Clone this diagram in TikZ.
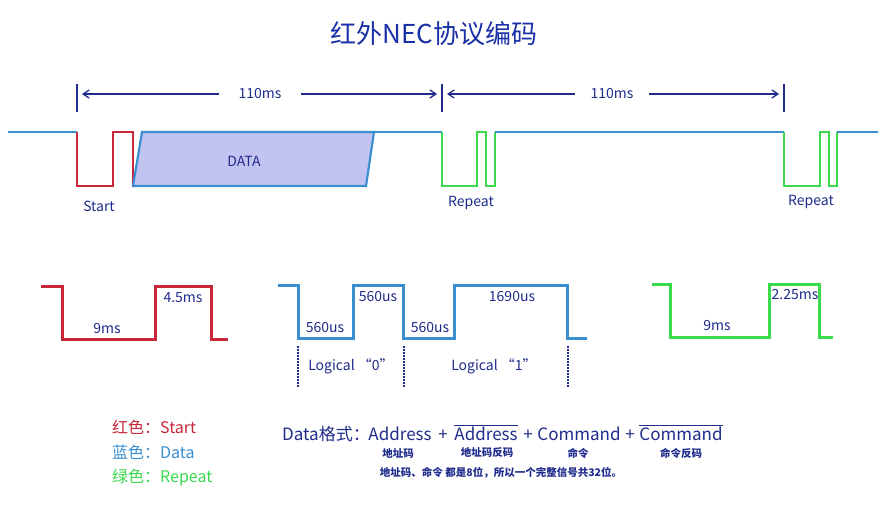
\documentclass[tikz,border=0pt]{standalone}
\usepackage{fontspec}
\setmainfont{Noto Sans CJK SC}
\usetikzlibrary{arrows.meta}
\definecolor{navy}{HTML}{1F2C8C}
\definecolor{titleblue}{HTML}{1A30A8}
\definecolor{wred}{HTML}{C8283A}
\definecolor{wblue}{HTML}{3A8FD0}
\definecolor{wgreen}{HTML}{3CD94C}
\definecolor{datafill}{HTML}{C3C3F2}
\newcommand\ovl[1]{$\overline{\hbox{#1}}$}
\begin{document}
\begin{tikzpicture}[x=1pt,y=-1pt,
  topwave/.style={line width=2.2pt, line join=miter},
  botwave/.style={line width=3pt, line join=miter},
  lbl/.style={text=navy, font=\fontsize{14}{16}\selectfont, inner sep=0pt},
  tick/.style={navy, line width=2pt},
  arr/.style={navy, line width=1.3pt, -{Straight Barb[length=6pt,width=8pt]}},
  guide/.style={navy, line width=1.5pt, dash pattern=on 1.5pt off 1.5pt},
  legend/.style={font=\fontsize{16}{18}\selectfont, anchor=west, inner sep=0pt},
  fmtword/.style={text=navy, font=\fontsize{17}{19}\selectfont, anchor=base, inner sep=0pt},
  small/.style={text=navy, font=\fontsize{10.5}{12}\selectfont\bfseries, inner sep=0pt},
]
\useasboundingbox (0,0) rectangle (888,520);
\fill[white] (0,0) rectangle (888,520);

% title
\node[text=titleblue, font=\fontsize{26}{30}\selectfont] (title) at (434,34) {红外NEC协议编码};

% time markers
\coordinate (k1t) at (77,84);  \coordinate (k1b) at (77,112);
\coordinate (k2t) at (442,84); \coordinate (k2b) at (442,112);
\coordinate (k3t) at (784,84); \coordinate (k3b) at (784,112);
\draw[tick] (k1t) -- (k1b);
\draw[tick] (k2t) -- (k2b);
\draw[tick] (k3t) -- (k3b);
\coordinate (a1l) at (82,94);  \coordinate (a1r) at (437,94);
\coordinate (a2l) at (447,94); \coordinate (a2r) at (779,94);
\node[lbl, inner xsep=19pt] (t1) at (260,94) {110ms};
\node[lbl, inner xsep=15pt] (t2) at (612,94) {110ms};
\draw[arr] (t1) -- (a1l);
\draw[arr] (t1) -- (a1r);
\draw[arr] (t2) -- (a2l);
\draw[arr] (t2) -- (a2r);

% top waveform
\draw[wblue, topwave] (8,132) -- (77,132);
\draw[wred, topwave] (77,132) -- (77,186) -- (113,186) -- (113,132) -- (133,132) -- (133,186);
\draw[wblue, topwave, fill=datafill] (133,186) -- (142,132) -- (374,132) -- (366,186) -- cycle;
\draw[wblue, topwave] (374,132) -- (442,132);
\draw[wgreen, topwave] (442,132) -- (442,186) -- (477,186) -- (477,132) -- (486,132) -- (486,186) -- (495,186) -- (495,132);
\draw[wblue, topwave] (495,132) -- (784,132);
\draw[wgreen, topwave] (784,132) -- (784,186) -- (820,186) -- (820,132) -- (829,132) -- (829,186) -- (837,186) -- (837,132);
\draw[wblue, topwave] (837,132) -- (878,132);
\node[lbl] (data) at (244,161) {DATA};
\node[lbl] (start) at (99,206) {Start};
\node[lbl] (rep1) at (471,203) {Repeat};
\node[lbl] (rep2) at (811,202) {Repeat};

% bottom: start
\draw[wred, botwave] (41,286) -- (62,286) -- (62,339) -- (155,339) -- (155,286) -- (211,286) -- (211,339) -- (228,339);
\node[lbl] (s9) at (107,329) {9ms};
\node[lbl] (s45) at (183,298) {4.5ms};

% bottom: data bits
\draw[wblue, botwave] (278,285) -- (298,285) -- (298,338) -- (353,338) -- (353,285) -- (403,285) -- (403,338) -- (454,338) -- (454,285) -- (567,285) -- (567,338) -- (587,338);
\node[lbl] (d1) at (325,328) {560us};
\node[lbl] (d2) at (378,297) {560us};
\node[lbl] (d3) at (430,328) {560us};
\node[lbl] (d4) at (512,297) {1690us};
\coordinate (g1t) at (298,346); \coordinate (g1b) at (298,388);
\coordinate (g2t) at (404,346); \coordinate (g2b) at (404,388);
\coordinate (g3t) at (568,346); \coordinate (g3b) at (568,388);
\draw[guide] (g1t) -- (g1b);
\draw[guide] (g2t) -- (g2b);
\draw[guide] (g3t) -- (g3b);
\node[lbl] (l0) at (351,366) {Logical “0”};
\node[lbl] (l1) at (494,366) {Logical “1”};

% bottom: repeat
\draw[wgreen, botwave] (652,284) -- (670,284) -- (670,337) -- (769,337) -- (769,284) -- (819,284) -- (819,337) -- (833,337);
\node[lbl] (r9) at (717,326) {9ms};
\node[lbl] (r225) at (795,295) {2.25ms};

% legend
\node[legend, text=wred] (lgr) at (112,427) {红色：Start};
\node[legend, text=wblue] (lgb) at (112,452) {蓝色：Data};
\node[legend, text=wgreen] (lgg) at (112,478) {绿色：Repeat};

% data format
\node[fmtword, anchor=base west] (fmt) at (282,440) {Data格式：};
\node[fmtword] (w1) at (400,440) {Address};
\node[fmtword] (p1) at (443,440) {+};
\node[fmtword] (w2) at (486,440) {\ovl{Address}};
\node[fmtword] (p2) at (528,440) {+};
\node[fmtword] (w3) at (579,440) {Command};
\node[fmtword] (p3) at (630,440) {+};
\node[fmtword] (w4) at (681,440) {\ovl{Command}};
\node[small] (sub1) at (398,453) {地址码};
\node[small] (sub2) at (487,453) {地址码反码};
\node[small] (sub3) at (578,453) {命令};
\node[small] (sub4) at (681,453) {命令反码};
\node[small] (note) at (501,473) {地址码、命令 都是8位，所以一个完整信号共32位。};
\end{tikzpicture}
\end{document}
